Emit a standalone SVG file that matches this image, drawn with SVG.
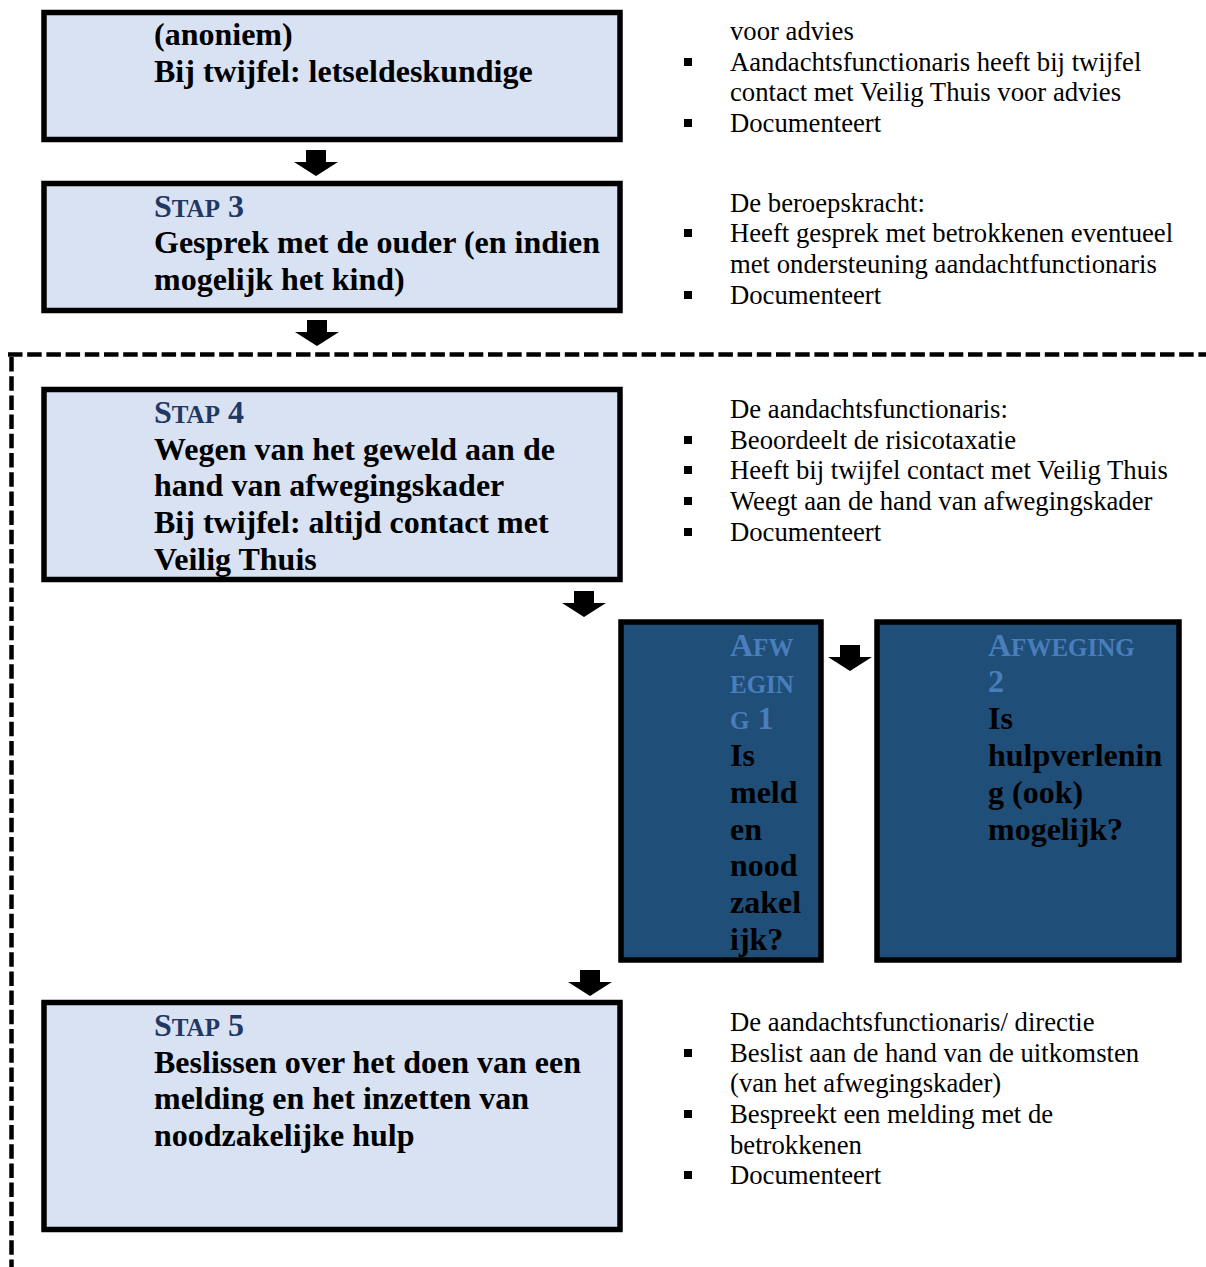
<svg xmlns="http://www.w3.org/2000/svg" width="1206" height="1267" viewBox="0 0 1206 1267">
<style>
.box{fill:#D9E2F3;stroke:#000;stroke-width:5.5}
.dbox{fill:#1F4E79;stroke:#000;stroke-width:5.5}
.bt{font-family:"Liberation Serif","Times New Roman",serif;font-weight:bold;font-size:32px;fill:#000}
.hd{fill:#1F3864}
.ah{fill:#4A7EBB}
.sc{font-size:25px}
.rt{font-family:"Liberation Serif","Times New Roman",serif;font-size:26.7px;fill:#000}
.dash{fill:none;stroke:#000;stroke-width:4.5;stroke-dasharray:14.5 4.7}
</style>
<defs>
<path id="arr" d="M-10,0 H10 V12 H22 L0,26 L-22,12 H-10 Z" fill="#000"/>
<rect id="bul" x="0" y="0" width="8" height="8" fill="#000"/>
</defs>

<g id="connectors">
<use href="#arr" x="316" y="150"/>
<use href="#arr" x="317" y="320"/>
<use href="#arr" x="584" y="591"/>
<use href="#arr" x="850" y="645"/>
<use href="#arr" x="590" y="970"/>
<path class="dash" d="M8,354.5 H1206"/>
<path class="dash" d="M11.5,357 V1267"/>
</g>

<g id="box1">
<rect class="box" x="44" y="12.5" width="576" height="127"/>
<text class="bt" x="154" y="45">(anoniem)</text>
<text class="bt" x="154" y="82">Bij twijfel: letseldeskundige</text>
</g>

<g id="box-stap3">
<rect class="box" x="44" y="183.5" width="576" height="127"/>
<text class="bt hd" x="154" y="217">S<tspan class="sc">TAP</tspan> 3</text>
<text class="bt" x="154" y="253">Gesprek met de ouder (en indien</text>
<text class="bt" x="154" y="290">mogelijk het kind)</text>
</g>

<g id="box-stap4">
<rect class="box" x="44" y="389.5" width="576" height="190"/>
<text class="bt hd" x="154" y="423">S<tspan class="sc">TAP</tspan> 4</text>
<text class="bt" x="154" y="460">Wegen van het geweld aan de</text>
<text class="bt" x="154" y="496">hand van afwegingskader</text>
<text class="bt" x="154" y="533">Bij twijfel: altijd contact met</text>
<text class="bt" x="154" y="570">Veilig Thuis</text>
</g>

<g id="box-afweging1">
<rect class="dbox" x="621" y="622" width="200" height="338"/>
<text class="bt ah" x="730" y="656">A<tspan class="sc">FW</tspan></text>
<text class="bt ah" x="730" y="693"><tspan class="sc">EGIN</tspan></text>
<text class="bt ah" x="730" y="729"><tspan class="sc">G</tspan> 1</text>
<text class="bt" x="730" y="766">Is</text>
<text class="bt" x="730" y="803">meld</text>
<text class="bt" x="730" y="840">en</text>
<text class="bt" x="730" y="876">nood</text>
<text class="bt" x="730" y="913">zakel</text>
<text class="bt" x="730" y="950">ijk?</text>
</g>

<g id="box-afweging2">
<rect class="dbox" x="877" y="622" width="302" height="338"/>
<text class="bt ah" x="988" y="656">A<tspan class="sc">FWEGING</tspan></text>
<text class="bt ah" x="988" y="692">2</text>
<text class="bt" x="988" y="729">Is</text>
<text class="bt" x="988" y="766">hulpverlenin</text>
<text class="bt" x="988" y="803">g (ook)</text>
<text class="bt" x="988" y="840">mogelijk?</text>
</g>

<g id="box-stap5">
<rect class="box" x="44" y="1002.5" width="576" height="227"/>
<text class="bt hd" x="154" y="1036">S<tspan class="sc">TAP</tspan> 5</text>
<text class="bt" x="154" y="1073">Beslissen over het doen van een</text>
<text class="bt" x="154" y="1109">melding en het inzetten van</text>
<text class="bt" x="154" y="1146">noodzakelijke hulp</text>
</g>

<g id="notes1">
<text class="rt" x="730" y="40">voor advies</text>
<use href="#bul" x="684" y="58"/>
<text class="rt" x="730" y="71">Aandachtsfunctionaris heeft bij twijfel</text>
<text class="rt" x="730" y="101">contact met Veilig Thuis voor advies</text>
<use href="#bul" x="684" y="119"/>
<text class="rt" x="730" y="132">Documenteert</text>
</g>

<g id="notes2">
<text class="rt" x="730" y="212">De beroepskracht:</text>
<use href="#bul" x="684" y="229"/>
<text class="rt" x="730" y="242">Heeft gesprek met betrokkenen eventueel</text>
<text class="rt" x="730" y="273">met ondersteuning aandachtfunctionaris</text>
<use href="#bul" x="684" y="291"/>
<text class="rt" x="730" y="304">Documenteert</text>
</g>

<g id="notes3">
<text class="rt" x="730" y="418">De aandachtsfunctionaris:</text>
<use href="#bul" x="684" y="436"/>
<text class="rt" x="730" y="449">Beoordeelt de risicotaxatie</text>
<use href="#bul" x="684" y="466"/>
<text class="rt" x="730" y="479">Heeft bij twijfel contact met Veilig Thuis</text>
<use href="#bul" x="684" y="497"/>
<text class="rt" x="730" y="510">Weegt aan de hand van afwegingskader</text>
<use href="#bul" x="684" y="528"/>
<text class="rt" x="730" y="541">Documenteert</text>
</g>

<g id="notes4">
<text class="rt" x="730" y="1031">De aandachtsfunctionaris/ directie</text>
<use href="#bul" x="684" y="1049"/>
<text class="rt" x="730" y="1062">Beslist aan de hand van de uitkomsten</text>
<text class="rt" x="730" y="1092">(van het afwegingskader)</text>
<use href="#bul" x="684" y="1110"/>
<text class="rt" x="730" y="1123">Bespreekt een melding met de</text>
<text class="rt" x="730" y="1154">betrokkenen</text>
<use href="#bul" x="684" y="1171"/>
<text class="rt" x="730" y="1184">Documenteert</text>
</g>
</svg>
